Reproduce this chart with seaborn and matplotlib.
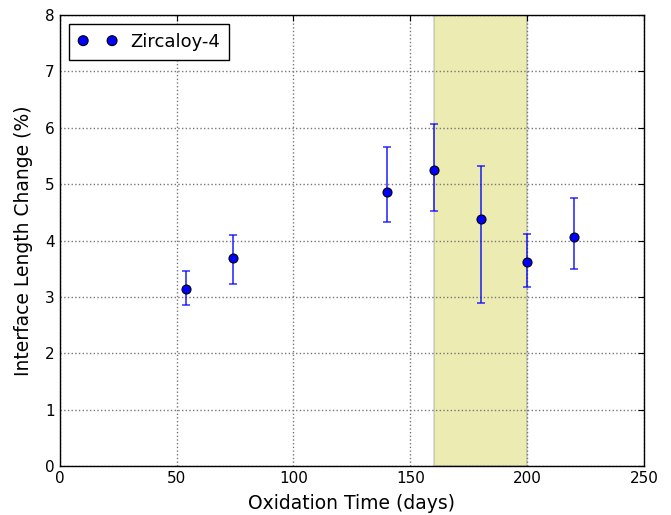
import matplotlib
matplotlib.use("Agg")
import matplotlib.pyplot as plt
import seaborn as sns
import numpy as np
import pandas as pd

# data
days = [54, 74, 140, 160, 180, 200, 220]
change = [3.14, 3.69, 4.86, 5.25, 4.38, 3.62, 4.07]
err_upper = [3.46, 4.09, 5.65, 6.06, 5.32, 4.11, 4.76]
err_lower = [2.86, 3.22, 4.33, 4.53, 2.90, 3.18, 3.50]
span_range = [160, 200]
series_label = "Zircaloy-4"
xticks = [0, 50, 100, 150, 200, 250]
yticks = [0, 1, 2, 3, 4, 5, 6, 7, 8]

sns.set_style("white")
plt.rcParams['font.family'] = ['DejaVu Sans']
plt.rcParams['text.color'] = 'black'
plt.rcParams['axes.labelcolor'] = 'black'
plt.rcParams['xtick.color'] = 'black'
plt.rcParams['ytick.color'] = 'black'

df = pd.DataFrame({"days": days, "change": change})
yerr = np.array([np.array(change) - np.array(err_lower),
                 np.array(err_upper) - np.array(change)])

fig = plt.figure(figsize=(6.71, 5.15), dpi=100)
ax = fig.add_axes([0.089, 0.095, 0.871, 0.876])

ax.axvspan(span_range[0], span_range[1], facecolor='y', alpha=0.3,
           edgecolor='#777777', linewidth=1.2, zorder=0)

ax.errorbar(days, change, yerr=yerr, fmt='none', ecolor='blue', alpha=0.75,
            elinewidth=1.3, capsize=3, capthick=1.2, zorder=2)
sns.scatterplot(data=df, x="days", y="change", ax=ax, color='blue',
                edgecolor='black', linewidth=0.8, s=42, zorder=3,
                label=series_label)

ax.set_xlim(0, 250)
ax.set_ylim(0, 8)
ax.set_xticks(xticks)
ax.set_yticks(yticks)
ax.grid(True, linestyle=':', color='#777777', linewidth=1.0)
ax.set_axisbelow(True)
ax.tick_params(axis='both', which='both', direction='in', length=4,
               top=True, right=True, labelsize=11, color='black')
for s in ax.spines.values():
    s.set_color('black')
    s.set_linewidth(1.0)

ax.set_xlabel("Oxidation Time (days)", fontsize=13.5, labelpad=6)
ax.set_ylabel("Interface Length Change (%)", fontsize=13.5, labelpad=9)

leg = ax.legend(loc='upper left', scatterpoints=2, scatteryoffsets=[0.5],
                fontsize=13, fancybox=False, frameon=True, borderpad=0.5,
                handletextpad=0.7, handlelength=2.2, markerscale=1.1)
leg.get_frame().set_edgecolor('black')
leg.get_frame().set_linewidth(1.0)
leg.get_frame().set_alpha(1)

fig.savefig("out.png", dpi=100)
